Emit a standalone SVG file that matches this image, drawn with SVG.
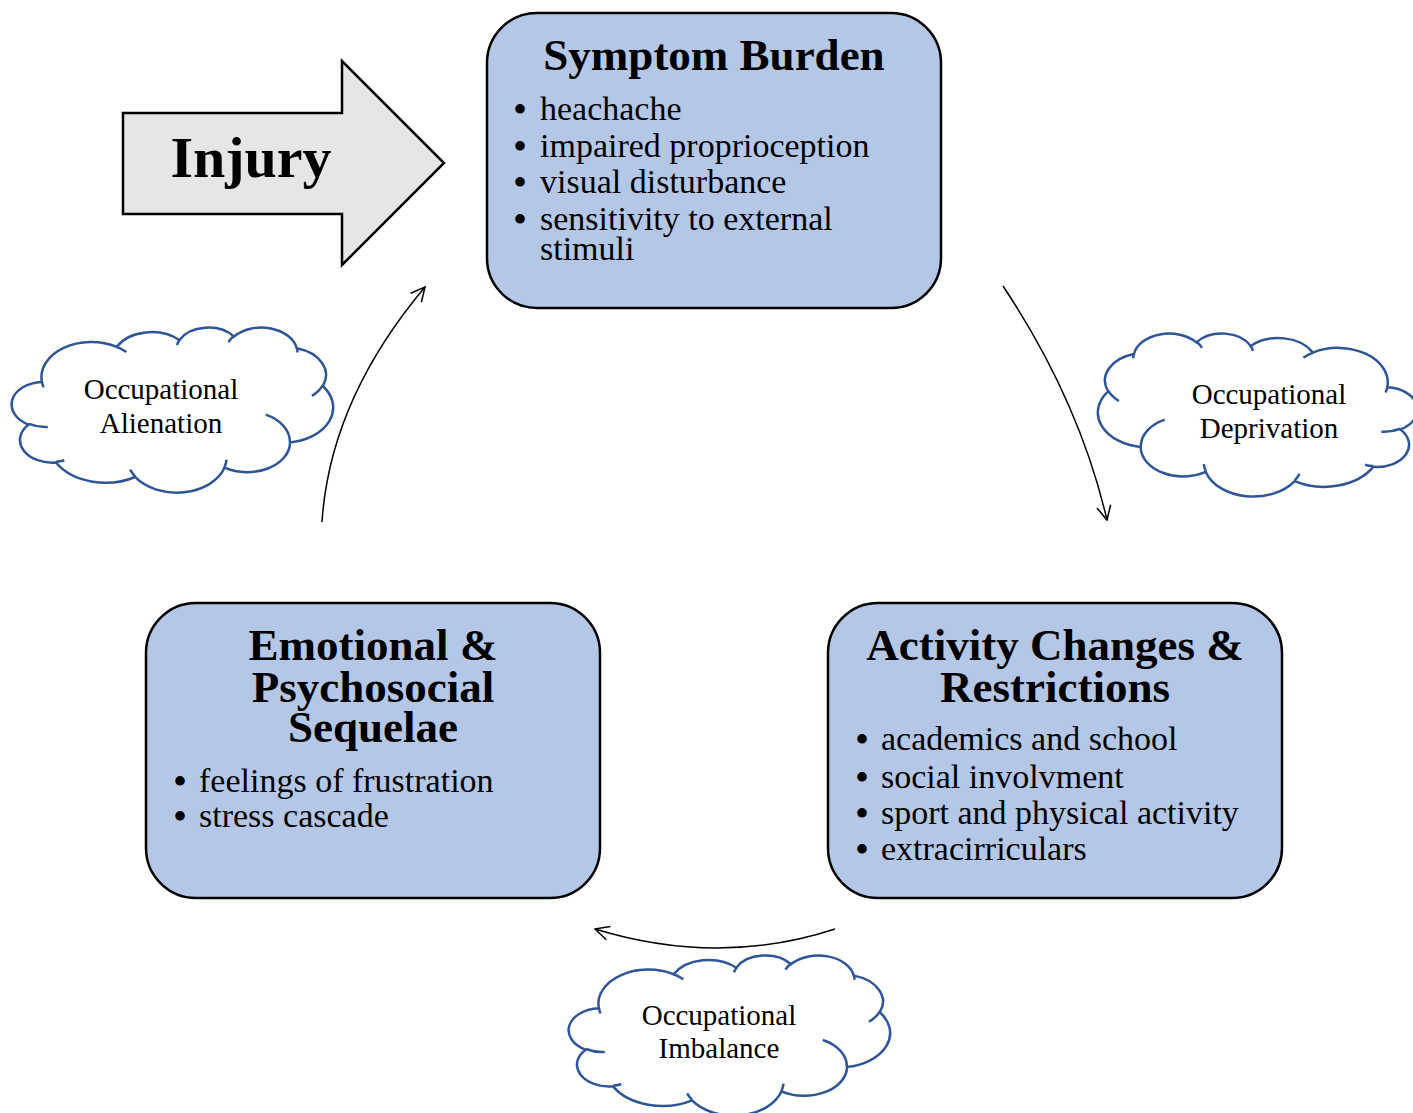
<svg xmlns="http://www.w3.org/2000/svg" xmlns:xlink="http://www.w3.org/1999/xlink" width="1413" height="1113" viewBox="0 0 1413 1113">
  <style>
    text { font-family: "Liberation Serif", "Times New Roman", serif; fill: #000; }
    .box { fill: #B4C7E7; stroke: #000; stroke-width: 2.5; }
    .title { font-weight: bold; font-size: 45px; text-anchor: middle; }
    .item { font-size: 34px; }
    .dot { font-size: 40px; }
    .cloudtxt { font-size: 29px; text-anchor: middle; }
    .cloud-shape { fill: #fff; stroke: #2F5597; stroke-width: 2.5; vector-effect: non-scaling-stroke; }
    .cloud-hook { fill: none; stroke: #2F5597; stroke-width: 2.5; vector-effect: non-scaling-stroke; }
    .link { fill: none; stroke: #000; stroke-width: 1.5; marker-end: url(#open); }
  </style>
  <defs>
    <marker id="open" viewBox="0 0 16 16" refX="15" refY="8" markerWidth="16" markerHeight="16" markerUnits="userSpaceOnUse" orient="auto">
      <path d="M1,1 L15,8 L1,15" fill="none" stroke="#000" stroke-width="1.5"/>
    </marker>
    <!-- cloud outline on a 43200 x 43200 grid, stretched to each use box -->
    <symbol id="cloud" viewBox="0 0 43200 43200" preserveAspectRatio="none" overflow="visible">
      <path class="cloud-shape" d="M3900,14370 A6753,9190 0 0 1 14003,5200 A5333,7267 0 0 1 22454,3430 A4365,5945 0 0 1 29830,2479 A4857,6595 0 0 1 38316,5574 A5333,7273 0 0 1 41817,15458 A6775,9220 0 0 1 37406,30206 A5785,7867 0 0 1 28557,36816 A6752,9215 0 0 1 16481,39266 A7720,10543 0 0 1 5810,35475 A4360,5918 0 0 1 2118,25555 A4345,5945 0 0 1 3900,14370 Z"/>
      <path class="cloud-hook" d="M4693,26177 A4345,5945 0 0 1 2158,25378 M6928,34899 A4360,5918 0 0 1 5820,35280 M16478,39090 A6752,9215 0 0 1 15810,37350 M28827,34751 A6752,9215 0 0 1 28561,36660 M34129,22954 A5785,7867 0 0 1 37378,30088 M41798,15354 A5333,7273 0 0 1 40350,18030 M38324,5426 A4857,6595 0 0 1 38400,6690 M29078,3952 A4857,6595 0 0 1 29819,2341 M22141,4720 A4365,5945 0 0 1 22501,3329 M14000,5192 A6753,9190 0 0 1 15303,6543 M4127,15789 A6753,9190 0 0 1 3900,14370"/>
    </symbol>
  </defs>

  <!-- connectors -->
  <g id="connectors">
    <path class="link" d="M1003,286 Q1079,400 1107,520"/>
    <path class="link" d="M835,929 Q719,967 595,929"/>
    <path class="link" d="M322,522 Q330,400 425,287"/>
  </g>

  <g id="injury">
    <polygon points="123,113 342,113 342,61 444,163 342,265 342,214 123,214" fill="#E6E6E6" stroke="#000" stroke-width="2.5"/>
    <text x="251" y="177" font-size="58" font-weight="bold" text-anchor="middle">Injury</text>
  </g>

  <g id="symptom-burden">
    <rect class="box" x="487" y="13" width="454" height="295" rx="50" ry="50"/>
    <text class="title" x="714" y="70">Symptom Burden</text>
    <text class="item" y="120"><tspan class="dot" x="513" dy="3">•</tspan><tspan x="540" dy="-3">heachache</tspan></text>
    <text class="item" y="157"><tspan class="dot" x="513" dy="3">•</tspan><tspan x="540" dy="-3">impaired proprioception</tspan></text>
    <text class="item" y="193"><tspan class="dot" x="513" dy="3">•</tspan><tspan x="540" dy="-3">visual disturbance</tspan></text>
    <text class="item" y="230"><tspan class="dot" x="513" dy="3">•</tspan><tspan x="540" dy="-3">sensitivity to external</tspan><tspan x="540" y="260">stimuli</tspan></text>
  </g>

  <g id="activity-changes">
    <rect class="box" x="828" y="603" width="454" height="295" rx="50" ry="50"/>
    <text class="title" x="1055" y="660">Activity Changes &amp;<tspan x="1055" y="702">Restrictions</tspan></text>
    <text class="item" y="750"><tspan class="dot" x="855" dy="3">•</tspan><tspan x="881" dy="-3">academics and school</tspan></text>
    <text class="item" y="788"><tspan class="dot" x="855" dy="3">•</tspan><tspan x="881" dy="-3">social involvment</tspan></text>
    <text class="item" y="824"><tspan class="dot" x="855" dy="3">•</tspan><tspan x="881" dy="-3">sport and physical activity</tspan></text>
    <text class="item" y="860"><tspan class="dot" x="855" dy="3">•</tspan><tspan x="881" dy="-3">extracirriculars</tspan></text>
  </g>

  <g id="emotional-sequelae">
    <rect class="box" x="146" y="603" width="454" height="295" rx="50" ry="50"/>
    <text class="title" x="373" y="660">Emotional &amp;<tspan x="373" y="702">Psychosocial</tspan><tspan x="373" y="742">Sequelae</tspan></text>
    <text class="item" y="792"><tspan class="dot" x="173" dy="3">•</tspan><tspan x="199" dy="-3">feelings of frustration</tspan></text>
    <text class="item" y="827"><tspan class="dot" x="173" dy="3">•</tspan><tspan x="199" dy="-3">stress cascade</tspan></text>
  </g>

  <g id="occupational-alienation">
    <use xlink:href="#cloud" href="#cloud" x="13" y="327" width="320" height="165"/>
    <text class="cloudtxt" x="161" y="399">Occupational<tspan x="161" y="433">Alienation</tspan></text>
  </g>

  <g id="occupational-deprivation">
    <use xlink:href="#cloud" href="#cloud" x="1098" y="333" width="318" height="163" transform="matrix(-1,0,0,1,2514,0)"/>
    <text class="cloudtxt" x="1269" y="404">Occupational<tspan x="1269" y="438">Deprivation</tspan></text>
  </g>

  <g id="occupational-imbalance">
    <use xlink:href="#cloud" href="#cloud" x="570" y="955" width="320" height="160"/>
    <text class="cloudtxt" x="719" y="1025">Occupational<tspan x="719" y="1058">Imbalance</tspan></text>
  </g>
</svg>
